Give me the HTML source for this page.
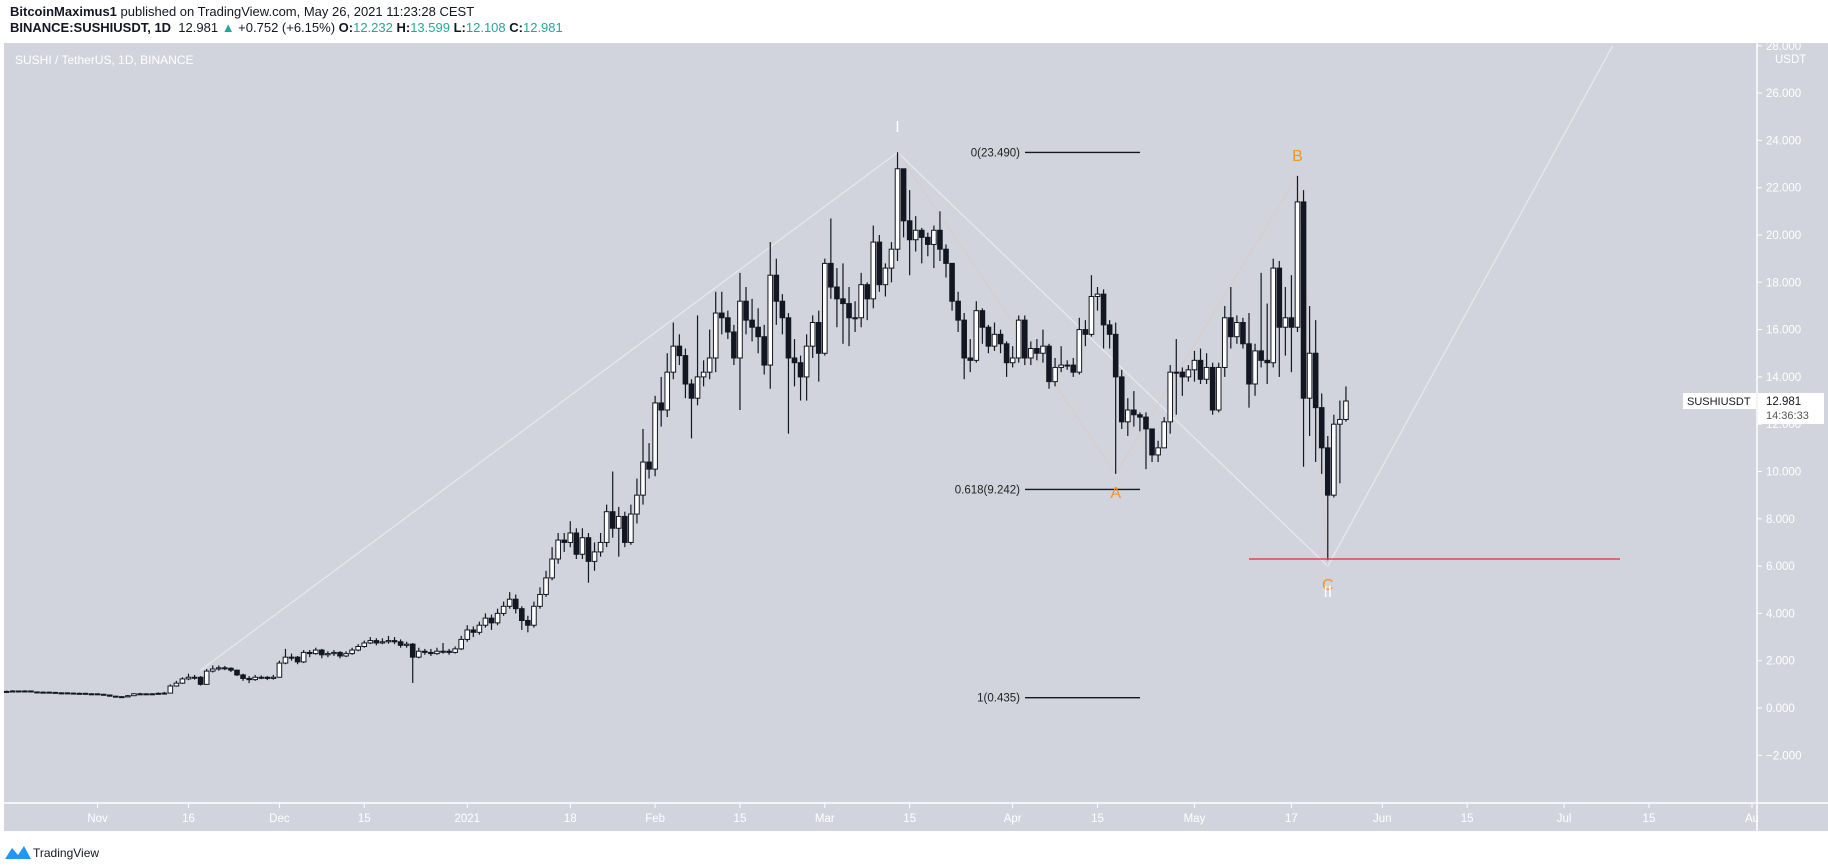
<!DOCTYPE html>
<html><head><meta charset="utf-8">
<style>
html,body{margin:0;padding:0;background:#fff;width:1828px;height:867px;overflow:hidden;font-family:"Liberation Sans",sans-serif}
#hdr{position:absolute;left:10px;top:4px;font-size:13px;color:#131722;line-height:16px;z-index:2}
.t{color:#26a69a}
svg{position:absolute;left:0;top:0;z-index:1}
</style></head><body>
<div id="hdr">
<div><b>BitcoinMaximus1</b> published on TradingView.com, May 26, 2021 11:23:28 CEST</div>
<div><b>BINANCE:SUSHIUSDT, 1D</b>&nbsp; 12.981 <span class="t">▲</span> +0.752 (+6.15%) <b>O:</b><span class="t">12.232</span> <b>H:</b><span class="t">13.599</span> <b>L:</b><span class="t">12.108</span> <b>C:</b><span class="t">12.981</span></div>
</div>
<svg id="chart" width="1828" height="867"></svg>
<script>
const closes=[0.70,0.72,0.70,0.72,0.68,0.66,0.67,0.66,0.64,0.64,0.63,0.62,0.62,0.60,0.60,
0.58,0.55,0.50,0.48,0.47,0.52,0.60,0.60,0.58,0.60,0.62,0.63,0.93,1.05,1.23,1.30,1.30,1.00,1.56,1.65,1.70,1.68,1.60,1.40,1.25,1.20,1.30,1.30,1.25,1.30,
1.90,2.15,2.15,1.95,2.35,2.30,2.45,2.25,2.30,2.35,2.20,2.30,2.45,2.60,2.75,2.85,2.75,2.80,2.85,2.80,2.65,2.70,2.15,2.40,2.35,2.30,2.40,2.40,2.35,2.50,2.90,
3.30,3.20,3.50,3.80,3.60,4.00,4.30,4.60,4.20,3.70,3.50,4.30,4.80,5.50,6.30,7.10,7.00,7.40,6.50,7.20,6.20,6.60,7.00,8.30,7.60,8.10,7.00,8.20,9.00,10.40,10.10,
12.9,12.6,14.2,15.3,14.9,13.7,13.1,14.0,14.2,14.8,16.7,16.5,15.9,14.8,17.2,16.4,16.1,15.7,14.5,18.3,17.2,16.5,14.8,14.6,14.0,15.3,16.3,15.0,
18.8,17.8,17.3,17.1,16.5,16.5,17.9,17.3,19.7,17.9,18.6,19.4,22.8,20.6,19.8,20.2,19.9,19.6,20.2,19.4,18.8,17.2,16.4,14.8,14.7,16.8,16.1,15.3,15.8,15.4,14.6,
14.8,16.4,14.8,15.2,15.0,15.3,13.8,14.4,14.5,14.5,14.2,16.0,15.8,17.4,17.5,16.2,15.8,14.0,12.1,12.6,12.4,12.3,11.8,10.7,11.0,12.1,14.2,14.2,14.0,14.3,
14.7,13.9,14.4,12.6,14.4,16.5,15.7,16.3,15.4,13.7,15.1,14.7,14.6,18.6,16.1,16.5,16.1,21.4,13.1,15.0,12.7,11.0,9.0,12.0,12.2,12.981];
const highs=[0.74,0.75,0.74,0.75,0.73,0.70,0.70,0.69,0.68,0.67,0.66,0.65,0.65,0.64,0.63,
0.62,0.60,0.56,0.52,0.50,0.55,0.63,0.64,0.62,0.63,0.66,0.68,1.00,1.15,1.30,1.45,1.40,1.35,1.65,1.80,1.80,1.78,1.72,1.62,1.45,1.35,1.40,1.38,1.35,1.40,
2.00,2.50,2.30,2.20,2.45,2.45,2.55,2.50,2.40,2.45,2.40,2.40,2.55,2.70,2.85,3.00,2.95,2.95,3.05,3.00,2.90,2.80,2.75,2.55,2.50,2.50,2.55,2.75,2.50,2.60,3.05,
3.50,3.45,3.65,4.00,3.95,4.20,4.50,4.90,4.80,4.30,3.90,4.50,5.10,5.80,6.80,7.40,7.40,7.90,7.60,7.60,7.40,7.00,7.40,8.60,10.0,8.50,8.30,8.60,9.70,11.80,11.20,
13.2,14.0,15.0,16.3,15.8,15.2,13.9,16.6,14.7,16.0,17.6,17.6,16.8,16.2,18.4,17.8,17.3,16.9,16.2,19.7,19.0,17.5,16.7,15.6,14.9,15.8,16.6,16.8,
19.0,20.7,18.6,18.8,17.8,17.2,18.4,18.0,20.4,20.0,18.8,19.7,23.5,22.6,21.9,20.8,20.3,20.1,20.4,21.0,19.6,18.8,17.6,16.7,15.6,17.2,16.9,16.2,16.3,16.0,15.5,
15.3,16.6,16.6,15.5,15.6,16.0,15.4,14.8,15.3,14.7,14.8,16.5,16.4,18.3,17.8,17.7,16.4,16.3,14.3,13.1,13.4,12.5,12.5,11.8,11.3,12.3,14.5,15.6,14.4,14.5,
15.1,15.2,15.0,14.6,14.6,17.0,17.8,16.6,16.5,16.7,15.4,18.4,17.1,19.0,18.9,17.8,18.3,22.5,21.9,17.0,16.4,13.3,11.5,12.4,13.0,13.599];
const lows=[0.66,0.68,0.68,0.69,0.66,0.64,0.64,0.64,0.62,0.62,0.61,0.60,0.60,0.58,0.58,
0.56,0.53,0.48,0.45,0.44,0.46,0.51,0.57,0.55,0.56,0.58,0.60,0.62,0.90,1.02,1.18,1.20,0.95,1.00,1.50,1.58,1.60,1.52,1.35,1.15,1.05,1.15,1.22,1.18,1.20,
1.28,1.85,2.00,1.85,1.90,2.15,2.25,2.10,2.15,2.20,2.10,2.15,2.25,2.40,2.55,2.70,2.65,2.70,2.72,2.70,2.55,2.55,1.06,2.10,2.25,2.20,2.25,2.30,2.25,2.30,2.45,
2.80,3.00,3.10,3.40,3.30,3.50,3.90,4.20,4.00,3.30,3.20,3.40,4.20,4.70,5.40,6.10,6.60,6.80,6.30,6.30,5.30,5.80,6.40,6.80,7.20,6.40,6.80,6.90,7.80,8.60,9.70,
9.8,11.9,12.3,13.9,14.5,13.1,11.4,12.8,13.6,13.9,14.2,15.8,15.6,14.5,12.6,15.8,15.5,15.0,14.1,13.5,16.2,15.8,11.6,13.6,13.0,13.0,14.8,13.8,
14.9,17.3,16.1,15.4,15.3,15.9,16.1,16.4,16.9,17.6,17.4,18.0,18.9,19.9,18.3,19.3,18.8,19.1,18.6,18.9,18.2,16.8,15.9,13.9,14.2,14.6,15.4,15.0,15.1,15.0,14.0,
14.4,14.6,14.5,14.5,14.7,14.6,13.5,13.6,14.2,14.3,14.0,14.1,15.3,15.7,16.8,15.2,15.2,9.9,11.8,11.5,11.9,11.7,10.1,10.4,10.4,11.0,11.6,12.4,13.2,13.8,
13.8,13.7,13.7,12.4,12.5,14.0,15.2,15.4,15.2,12.7,13.2,14.4,13.7,14.4,14.0,14.9,14.2,15.9,10.2,11.5,10.4,9.9,6.25,8.9,9.5,12.108];
const firstDay=-15; // Oct 17 2020, day offset from Nov 1
const priceTicks=[28,26,24,22,20,18,16,14,12,10,8,6,4,2,0,-2];
const timeLabels=["Nov","16","Dec","15","2021","18","Feb","15","Mar","15","Apr","15","May","17","Jun","15","Jul","15","Au"];
const timeDays=[0,15,30,44,61,78,92,106,120,134,151,165,181,197,212,226,242,256,273];
const fibLevels=[23.490,9.242,0.435];
const fibNames=["0","0.618","1"];
const lastPrice=12.981;

const NS="http://www.w3.org/2000/svg";
const svg=document.getElementById('chart');
const X=d=>97.6+6.06*d;
const Y=p=>708-23.65*p;
function mk(tag,attrs,parent){const e=document.createElementNS(NS,tag);for(const k in attrs)e.setAttribute(k,attrs[k]);(parent||svg).appendChild(e);return e;}

let bg=mk('rect',{x:4,y:43,width:1824,height:788,fill:'#d1d4dc'});


let hl=mk('line',{x1:4,y1:803,x2:1828,y2:803,stroke:'#ffffff','stroke-width':1.5});


let vl=mk('line',{x1:1757,y1:43,x2:1757,y2:831,stroke:'#ffffff','stroke-width':1.5});



let title=mk('text',{x:15,y:64,fill:'#ffffff','font-size':12,'font-family':'Liberation Sans, sans-serif'});
title.textContent='SUSHI / TetherUS, 1D, BINANCE';



const pax=mk('g',{});


priceTicks.forEach(p=>{
  const y=Y(p);
  mk('line',{x1:1757,y1:y,x2:1762,y2:y,stroke:'#fff'},pax);
  const t=mk('text',{x:1766,y:y+4,fill:'#ffffff','font-size':11.5,'font-family':'Liberation Sans, sans-serif'},pax);
  t.textContent=(p<0?'\u2212':'')+Math.abs(p).toFixed(3);
  
  
});
let usdt=mk('text',{x:1775,y:63,fill:'#ffffff','font-size':11.5,'font-family':'Liberation Sans, sans-serif'},pax);
usdt.textContent='USDT';


mk('rect',{x:4,y:0,width:1824,height:43,fill:'#ffffff'});

const tax=mk('g',{});


timeLabels.forEach((l,i)=>{
  const x=X(timeDays[i]);
  mk('line',{x1:x,y1:803,x2:x,y2:808,stroke:'#fff'},tax);
  const t=mk('text',{x:x,y:822,fill:'#ffffff','font-size':11.5,'text-anchor':'middle','font-family':'Liberation Sans, sans-serif'},tax);
  t.textContent=l;
  
  
});
mk('rect',{x:1758,y:804,width:70,height:27,fill:'#d1d4dc'});

const waves=mk('g',{fill:'none'});


const pI=[X(132),Y(23.49)], pA=[X(168),Y(9.9)], pB=[X(198),Y(22.5)], pC=[X(203),Y(6.0)];
mk('polyline',{points:`${X(17)},${Y(1.6)} ${pI} ${pC} ${X(250)},${Y(28)}`,stroke:'#e8e9ee','stroke-width':1.2},waves);
mk('polyline',{points:`${pI} ${pA} ${pB} ${pC}`,stroke:'#d9ccc8','stroke-width':1},waves);

const fib=mk('g',{});


fibLevels.forEach((v,i)=>{
  const y=Y(v);
  mk('line',{x1:1025,y1:y,x2:1140,y2:y,stroke:'#131722','stroke-width':1.3},fib);
  const t=mk('text',{x:1020,y:y+4,fill:'#222','font-size':11.5,'text-anchor':'end','font-family':'Liberation Sans, sans-serif'},fib);
  t.textContent=fibNames[i]+'('+v.toFixed(3)+')';
  
  
});

const cg=mk('g',{});


closes.forEach((c,i)=>{
  const o=i===0?0.68:closes[i-1];
  const x=X(firstDay+i);
  const g=mk('g',{},cg);
  
  
  mk('line',{x1:x,y1:Y(highs[i]),x2:x,y2:Y(lows[i]),stroke:'#131722','stroke-width':1.2},g);
  const top=Y(Math.max(o,c)),bot=Y(Math.min(o,c));
  const up=c>=o;
  mk('rect',{x:x-2.3,y:top,width:4.6,height:Math.max(1,bot-top),fill:up?'#ffffff':'#131722',stroke:'#131722','stroke-width':1},g);
});

let red=mk('line',{x1:1249,y1:559,x2:1620,y2:559,stroke:'#e04848','stroke-width':1.6});



function lab(txt,x,y,col,name){const t=mk('text',{x:x,y:y,fill:col,'font-size':16,'text-anchor':'middle','font-family':'Liberation Sans, sans-serif'});t.textContent=txt;}
lab('I',X(132),132,'#ffffff','wave-label-i');
lab('B',X(198),161,'#f7931e','wave-label-b');
lab('A',X(168),498,'#f7931e','wave-label-a');
lab('C',X(203),590,'#f7931e','wave-label-c');
lab('II',X(203),597,'#ffffff','wave-label-ii');

const lp=mk('g',{});


const ly=Y(lastPrice);
mk('rect',{x:1683,y:ly-8,width:73,height:16,fill:'#ffffff'},lp);
let sn=mk('text',{x:1687,y:ly+4,fill:'#131722','font-size':11,'font-family':'Liberation Sans, sans-serif'},lp);sn.textContent='SUSHIUSDT';
mk('rect',{x:1758,y:ly-8,width:66,height:31,fill:'#ffffff'},lp);
let pv=mk('text',{x:1766,y:ly+4,fill:'#131722','font-size':11.5,'font-family':'Liberation Sans, sans-serif'},lp);pv.textContent=lastPrice.toFixed(3);
let cd=mk('text',{x:1766,y:ly+18,fill:'#555','font-size':11,'font-family':'Liberation Sans, sans-serif'},lp);cd.textContent='14:36:33';

const ft=mk('g',{});


mk('path',{d:'M5 859 L12 848 L18 855 L24 846 L31 859 Z',fill:'#2196f3'},ft);
let tv=mk('text',{x:33,y:857,fill:'#131722','font-size':12,'font-family':'Liberation Sans, sans-serif'},ft);tv.textContent='TradingView';
</script>
</body></html>
